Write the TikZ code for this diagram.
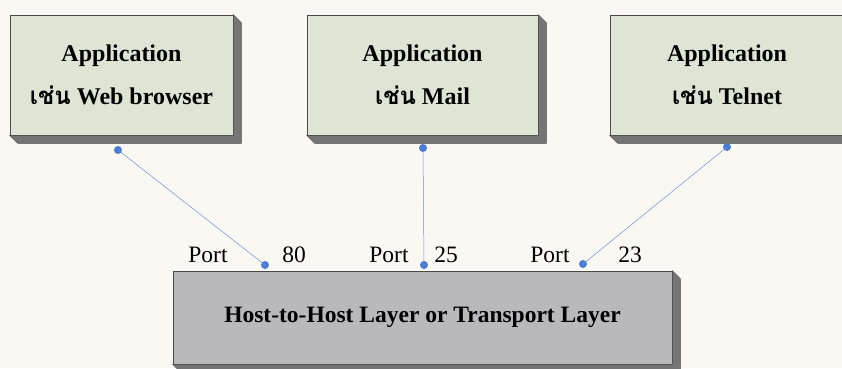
\documentclass[tikz,border=0pt]{standalone}
\usepackage{fontspec}
\setmainfont{Liberation Serif}
\newfontfamily\thaifont[Script=Thai]{Loma}
\usetikzlibrary{positioning}

\definecolor{paper}{HTML}{FAF8F3}
\definecolor{appface}{HTML}{DFE4D5}
\definecolor{hostface}{HTML}{B9B9BB}
\definecolor{sideface}{HTML}{757575}
\definecolor{edgegray}{HTML}{4A4A4A}
\definecolor{portblue}{HTML}{4C7BD0}
\definecolor{wireblue}{HTML}{6F8FD8}

\tikzset{
  appbox/.style={draw=edgegray, fill=appface, line width=0.6pt, minimum width=223pt, minimum height=120pt,
    align=center, font=\fontsize{24}{43}\selectfont\bfseries},
  hostbox/.style={draw=edgegray, fill=hostface, line width=0.6pt, minimum width=499pt, minimum height=93pt,
    font=\fontsize{23.5}{26}\selectfont\bfseries},
  portdot/.style={circle, fill=portblue, inner sep=0pt, minimum size=8pt},
  wire/.style={wireblue, line width=0.5pt},
  portlabel/.style={font=\fontsize{23.5}{26}\selectfont, inner sep=0pt}
}

\begin{document}
\begin{tikzpicture}[x=1pt, y=-1pt]
    \fill [paper] (0,0) rectangle (842,368);
    \useasboundingbox (0,0) rectangle (842,368);
    \clip (0,0) rectangle (842,368);

    % Application boxes
    \node [appbox] (web) at (121.5,75) {Application\\{\thaifont เช่น} Web browser};
    \node [appbox, minimum width=231pt] (mail) at (422.5,75) {Application\\{\thaifont เช่น} Mail};
    \node [appbox, minimum width=234pt] (telnet) at (727,75) {Application\\{\thaifont เช่น} Telnet};

    % Transport layer box
    \node [hostbox] (host) at (422.5,317.5) {Host-to-Host Layer or Transport Layer};

    % 3D sides
    \foreach \b in {web, mail, telnet, host} {
        \fill [sideface, draw=edgegray, line width=0.4pt] (\b.north east) -- ++(8,8) -- ([shift={(8,8)}]\b.south east)
            -- ([shift={(8,8)}]\b.south west) -- (\b.south west) -- (\b.south east) -- cycle;
    }

    % Ports on the applications
    \node [portdot] (web_p) at (118,150) {};
    \node [portdot] (mail_p) at (423,148) {};
    \node [portdot] (telnet_p) at (727,147) {};

    % Ports on the transport layer
    \node [portdot] (p80) at (265,265) {};
    \node [portdot] (p25) at (424,265) {};
    \node [portdot] (p23) at (583,264) {};

    % Connections
    \draw [wire] (web_p.center) -- (p80.center);
    \draw [wire] (mail_p.center) -- (p25.center);
    \draw [wire] (telnet_p.center) -- (p23.center);

    % Port numbers
    \node [portlabel, anchor=base] (port80) at (208,262) {Port};
    \node [portlabel, anchor=base] (num80) at (294,262) {80};
    \node [portlabel, anchor=base] (port25) at (389,262) {Port};
    \node [portlabel, anchor=base] (num25) at (446,262) {25};
    \node [portlabel, anchor=base] (port23) at (550,262) {Port};
    \node [portlabel, anchor=base] (num23) at (630,262) {23};
\end{tikzpicture}
\end{document}
